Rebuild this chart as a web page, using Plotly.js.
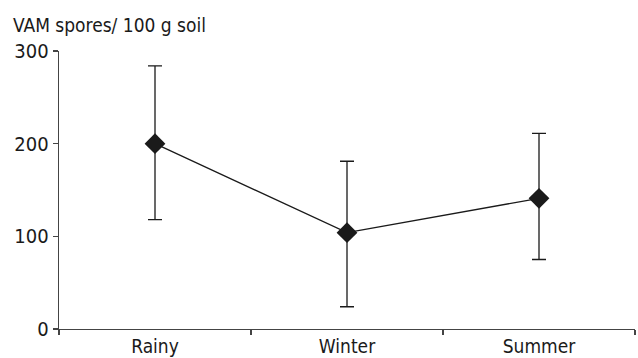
<!DOCTYPE html>
<html>
<head>
<meta charset="utf-8">
<script src="https://cdn.plot.ly/plotly-3.0.1.min.js"></script>
<style>
  html, body { margin: 0; padding: 0; background: #fff; }
  #chart { width: 638px; height: 358px; }
</style>
</head>
<body>
<div id="chart"></div>
<script>
// Seasonal VAM spore counts (mean with upper/lower error)
const seasons = ["Rainy", "Winter", "Summer"];
const spores = [200, 104, 141];
const errUpper = [84, 77, 70];
const errLower = [82, 80, 66];
const yTicks = [0, 100, 200, 300];

const FONT = '"DejaVu Sans Condensed", "Liberation Sans Narrow", sans-serif';
const INK = "#1a1a1a";

const trace = {
  type: "scatter",
  mode: "lines+markers",
  x: seasons,
  y: spores,
  line: { color: INK, width: 1.3 },
  marker: { symbol: "diamond", size: 16, color: INK },
  error_y: {
    type: "data",
    symmetric: false,
    array: errUpper,
    arrayminus: errLower,
    color: INK,
    thickness: 1.3,
    width: 7
  },
  cliponaxis: false,
  hoverinfo: "skip"
};

const layout = {
  width: 638,
  height: 358,
  margin: { l: 59, r: 3, t: 51, b: 29 },
  paper_bgcolor: "#fff",
  plot_bgcolor: "#fff",
  showlegend: false,
  font: { family: FONT, size: 19, color: INK },
  title: {
    text: "VAM spores/ 100 g soil",
    xref: "container", yref: "container",
    x: 13 / 638, xanchor: "left",
    y: 1 - 25 / 358, yanchor: "middle",
    font: { family: FONT, size: 19, color: INK }
  },
  xaxis: {
    type: "category",
    range: [-0.5, 2.5],
    tickson: "boundaries",
    ticks: "outside",
    ticklen: 5,
    tickcolor: "#444",
    tickwidth: 1.2,
    showline: true,
    linecolor: "#444",
    linewidth: 1.3,
    showgrid: false,
    zeroline: false,
    fixedrange: true,
    ticklabelstandoff: 0,
    tickfont: { family: FONT, size: 19, color: INK }
  },
  yaxis: {
    range: [0, 300],
    tickvals: yTicks,
    ticktext: yTicks.map(String),
    ticks: "outside",
    ticklen: 5,
    tickcolor: "#444",
    tickwidth: 1.2,
    showline: true,
    linecolor: "#444",
    linewidth: 1.3,
    showgrid: false,
    zeroline: false,
    fixedrange: true,
    tickfont: { family: FONT, size: 20, color: INK }
  }
};

Plotly.newPlot("chart", [trace], layout, { staticPlot: true, displayModeBar: false });
</script>
</body>
</html>
